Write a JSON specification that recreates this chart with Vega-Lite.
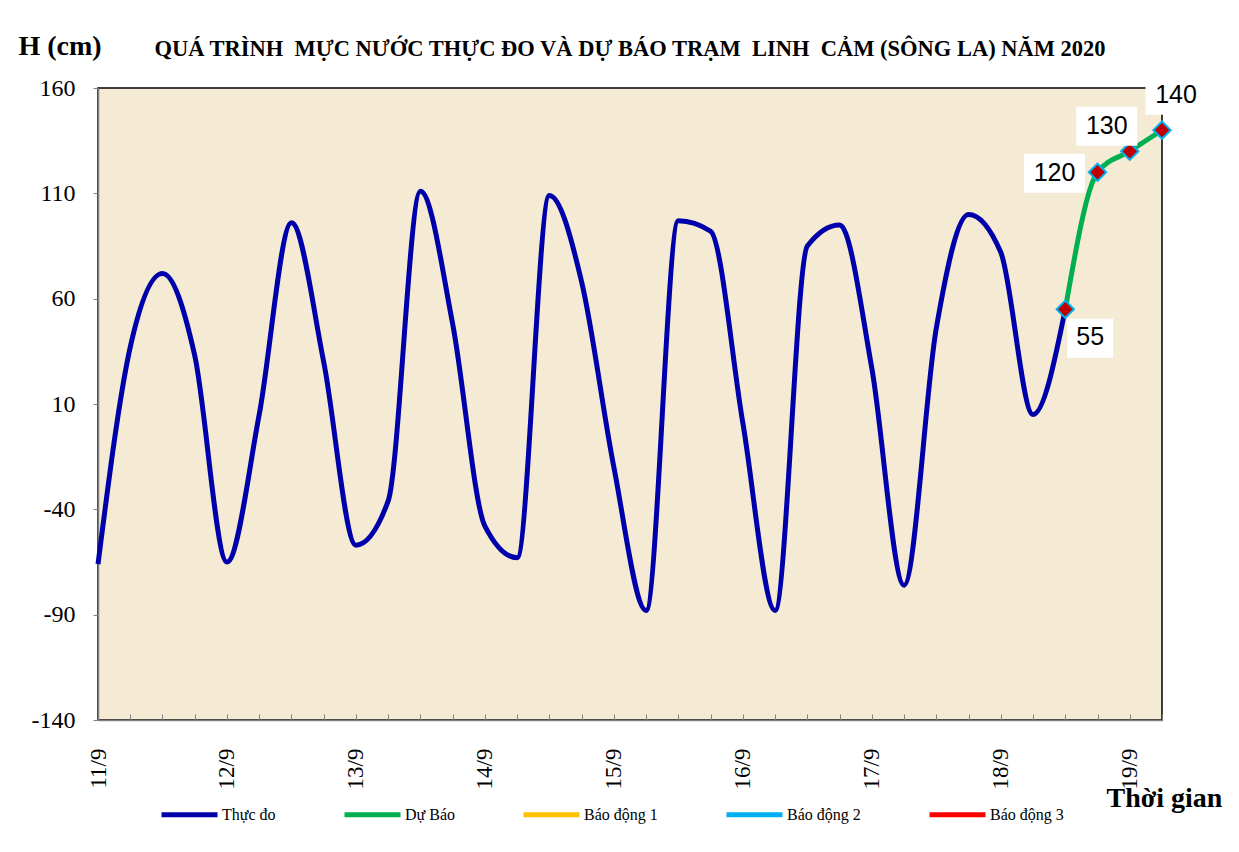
{
  "$schema": "https://vega.github.io/schema/vega-lite/v6.json",
  "width": 1064,
  "height": 632,
  "autosize": {"type": "none"},
  "padding": {"left": 98, "top": 88, "right": 77, "bottom": 132},
  "background": "white",
  "config": {
    "view": {"stroke": "#000000", "strokeWidth": 1.5, "fill": "#F5EBD5"}
  },
  "title": {
    "text": "QUÁ TRÌNH\u00a0 MỰC NƯỚC THỰC ĐO VÀ DỰ BÁO TRẠM\u00a0 LINH\u00a0 CẢM (SÔNG LA) NĂM 2020",
    "font": "Liberation Serif",
    "fontSize": 22.5,
    "fontWeight": "bold",
    "color": "#000000",
    "anchor": "middle",
    "offset": -28
  },
  "data": {
    "values": [
      {"hour": 0, "h": -66, "series": "Thực đo"},
      {"hour": 6, "h": 37, "series": "Thực đo"},
      {"hour": 12, "h": 72, "series": "Thực đo"},
      {"hour": 18, "h": 33, "series": "Thực đo"},
      {"hour": 24, "h": -65, "series": "Thực đo"},
      {"hour": 30, "h": 5, "series": "Thực đo"},
      {"hour": 36, "h": 96, "series": "Thực đo"},
      {"hour": 42, "h": 30, "series": "Thực đo"},
      {"hour": 48, "h": -57, "series": "Thực đo"},
      {"hour": 54, "h": -36, "series": "Thực đo"},
      {"hour": 60, "h": 111, "series": "Thực đo"},
      {"hour": 66, "h": 48, "series": "Thực đo"},
      {"hour": 72, "h": -48, "series": "Thực đo"},
      {"hour": 78, "h": -63, "series": "Thực đo"},
      {"hour": 84, "h": 109, "series": "Thực đo"},
      {"hour": 90, "h": 68, "series": "Thực đo"},
      {"hour": 96, "h": -20, "series": "Thực đo"},
      {"hour": 102, "h": -88, "series": "Thực đo"},
      {"hour": 108, "h": 97, "series": "Thực đo"},
      {"hour": 114, "h": 92, "series": "Thực đo"},
      {"hour": 120, "h": 1, "series": "Thực đo"},
      {"hour": 126, "h": -88, "series": "Thực đo"},
      {"hour": 132, "h": 85, "series": "Thực đo"},
      {"hour": 138, "h": 95, "series": "Thực đo"},
      {"hour": 144, "h": 27, "series": "Thực đo"},
      {"hour": 150, "h": -76, "series": "Thực đo"},
      {"hour": 156, "h": 46, "series": "Thực đo"},
      {"hour": 162, "h": 100, "series": "Thực đo"},
      {"hour": 168, "h": 82, "series": "Thực đo"},
      {"hour": 174, "h": 5, "series": "Thực đo"},
      {"hour": 180, "h": 55, "series": "Thực đo"},
      {"hour": 180, "h": 55, "series": "Dự Báo", "label": "55"},
      {"hour": 186, "h": 120, "series": "Dự Báo", "label": "120"},
      {"hour": 192, "h": 130, "series": "Dự Báo", "label": "130"},
      {"hour": 198, "h": 140, "series": "Dự Báo", "label": "140"}
    ]
  },
  "encoding": {
    "x": {
      "field": "hour",
      "type": "quantitative",
      "scale": {"domain": [0, 198], "nice": false, "zero": false},
      "axis": {
        "title": "Thời gian",
        "titleFont": "Liberation Serif",
        "titleFontSize": 28,
        "titleFontWeight": "bold",
        "titleColor": "#000000",
        "titleAlign": "left",
        "titleX": 1008,
        "titleY": 64,
        "values": [0, 6, 12, 18, 24, 30, 36, 42, 48, 54, 60, 66, 72, 78, 84, 90, 96, 102, 108, 114, 120, 126, 132, 138, 144, 150, 156, 162, 168, 174, 180, 186, 192, 198],
        "labelExpr": "datum.value % 24 === 0 ? (11 + datum.value / 24) + '/9' : ''",
        "labelAngle": 270,
        "labelFont": "Liberation Serif",
        "labelFontSize": 23,
        "labelColor": "#000000",
        "labelPadding": 34,
        "labelFlush": false,
        "labelOverlap": false,
        "tickSize": -6,
        "tickColor": "#808080",
        "domainColor": "#808080",
        "domainWidth": 1.5,
        "grid": false
      }
    },
    "y": {
      "field": "h",
      "type": "quantitative",
      "scale": {"domain": [-140, 160], "nice": false, "zero": false},
      "axis": {
        "title": "H (cm)",
        "titleFont": "Liberation Serif",
        "titleFontSize": 28,
        "titleFontWeight": "bold",
        "titleColor": "#000000",
        "titleAngle": 0,
        "titleAlign": "left",
        "titleX": -80,
        "titleY": -28,
        "values": [-140, -90, -40, 10, 60, 110, 160],
        "labelExpr": "toString(datum.value)",
        "labelFont": "Liberation Serif",
        "labelFontSize": 24,
        "labelColor": "#000000",
        "labelPadding": 18,
        "tickSize": 5,
        "tickColor": "#808080",
        "domainColor": "#808080",
        "domainWidth": 1.5,
        "grid": false
      }
    }
  },
  "layer": [
    {
      "mark": {"type": "line", "interpolate": "monotone", "strokeWidth": 5},
      "encoding": {
        "color": {
          "field": "series",
          "type": "nominal",
          "scale": {
            "domain": ["Thực đo", "Dự Báo", "Báo động 1", "Báo động 2", "Báo động 3"],
            "range": ["#0000AA", "#00B050", "#FFC000", "#00B0F0", "#FF0000"]
          },
          "legend": {
            "title": null,
            "orient": "none",
            "legendX": 61,
            "legendY": 696,
            "direction": "horizontal",
            "columnPadding": 58,
            "symbolType": "stroke",
            "symbolSize": 3136,
            "symbolStrokeWidth": 5,
            "labelFont": "Liberation Serif",
            "labelFontSize": 16,
            "labelColor": "#000000",
            "labelOffset": 2
          }
        }
      }
    },
    {
      "transform": [{"filter": "datum.series === 'Dự Báo'"}],
      "mark": {"type": "point", "shape": "diamond", "filled": true, "size": 300, "fill": "#C00000", "stroke": "#00B0F0", "strokeWidth": 2, "opacity": 1}
    },
    {
      "transform": [{"filter": "datum.label === '55'"}],
      "layer": [
        {"mark": {"type": "point", "shape": "M-1,-0.85H1V0.85H-1Z", "size": 2116, "filled": true, "fill": "#FFFFFF", "strokeWidth": 0, "opacity": 1, "xOffset": 25, "yOffset": 29}},
        {"mark": {"type": "text", "font": "Liberation Sans", "fontSize": 25, "color": "#000000", "dx": 25, "dy": 28}, "encoding": {"text": {"field": "label"}}}
      ]
    },
    {
      "transform": [{"filter": "datum.label === '120'"}],
      "layer": [
        {"mark": {"type": "point", "shape": "M-1,-0.64H1V0.64H-1Z", "size": 3721, "filled": true, "fill": "#FFFFFF", "strokeWidth": 0, "opacity": 1, "xOffset": -43, "yOffset": 1}},
        {"mark": {"type": "text", "font": "Liberation Sans", "fontSize": 25, "color": "#000000", "dx": -43, "dy": 1}, "encoding": {"text": {"field": "label"}}}
      ]
    },
    {
      "transform": [{"filter": "datum.label === '130'"}],
      "layer": [
        {"mark": {"type": "point", "shape": "M-1,-0.64H1V0.64H-1Z", "size": 3721, "filled": true, "fill": "#FFFFFF", "strokeWidth": 0, "opacity": 1, "xOffset": -23, "yOffset": -25}},
        {"mark": {"type": "text", "font": "Liberation Sans", "fontSize": 25, "color": "#000000", "dx": -23, "dy": -25}, "encoding": {"text": {"field": "label"}}}
      ]
    },
    {
      "transform": [{"filter": "datum.label === '140'"}],
      "layer": [
        {"mark": {"type": "point", "shape": "M-1,-0.64H1V0.64H-1Z", "size": 3721, "filled": true, "fill": "#FFFFFF", "strokeWidth": 0, "opacity": 1, "xOffset": 14, "yOffset": -35}},
        {"mark": {"type": "text", "font": "Liberation Sans", "fontSize": 25, "color": "#000000", "dx": 14, "dy": -35}, "encoding": {"text": {"field": "label"}}}
      ]
    }
  ]
}
